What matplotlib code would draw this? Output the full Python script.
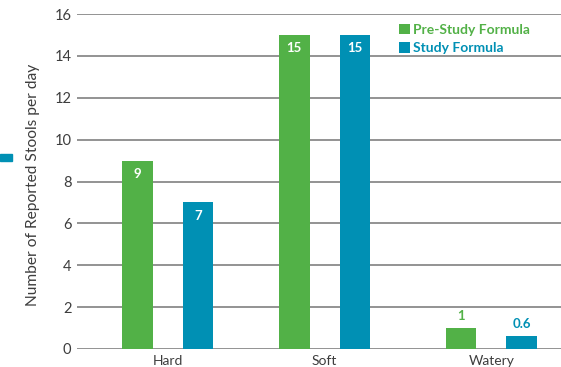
import matplotlib
matplotlib.use("Agg")
import matplotlib.pyplot as plt
from matplotlib.patches import Rectangle
import numpy as np

categories = ["Hard", "Soft", "Watery"]
pre_study = [9, 15, 1]
study = [7, 15, 0.6]
pre_labels = ["9", "15", "1"]
study_labels = ["7", "15", "0.6"]
series_names = ["Pre-Study Formula", "Study Formula"]
yticks = [0, 2, 4, 6, 8, 10, 12, 14, 16]

GREEN = "#52b147"
BLUE = "#0090b4"
TXT = "#3d3d3d"

plt.rcParams['font.family'] = ['Lato', 'DejaVu Sans']

fig = plt.figure(figsize=(5.61, 3.67), dpi=100)
ax = fig.add_axes([77/561, 1-349/367, 1-77/561, (349-14)/367])

x = np.array([0, 0.97, 2.0])
w = 0.19
off = 0.188
b1 = ax.bar(x - off, pre_study, w, color=GREEN, zorder=3, label=series_names[0])
b2 = ax.bar(x + off, study, w, color=BLUE, zorder=3, label=series_names[1])

ax.set_xlim(-0.56, 2.43)
ax.set_ylim(0, 16)
ax.set_yticks(yticks)
ax.set_xticks(x)
ax.set_xticklabels(categories)
ax.grid(axis='y', color='#8a8a8a', linewidth=1.3, zorder=0)
for s in ax.spines.values():
    s.set_visible(False)
ax.tick_params(axis='both', length=0, labelsize=10.5, colors=TXT, pad=4)
ax.tick_params(axis='x', labelsize=10, pad=4)
ax.set_ylabel("Number of Reported Stools per day", fontsize=11.2, color=TXT)
ax.yaxis.set_label_coords(-0.076, 0.49)

for rect, lab, v in zip(b1, pre_labels, pre_study):
    cx = rect.get_x() + rect.get_width()/2
    if v >= 3:
        ax.text(cx, v - 0.35, lab, ha='center', va='top', color='white', fontsize=9.5, fontweight='bold', zorder=4)
    else:
        ax.text(cx, v + 0.3, lab, ha='center', va='bottom', color=GREEN, fontsize=9.5, fontweight='bold', zorder=4)
for rect, lab, v in zip(b2, study_labels, study):
    cx = rect.get_x() + rect.get_width()/2
    if v >= 3:
        ax.text(cx, v - 0.35, lab, ha='center', va='top', color='white', fontsize=9.5, fontweight='bold', zorder=4)
    else:
        ax.text(cx, v + 0.3, lab, ha='center', va='bottom', color=BLUE, fontsize=9.5, fontweight='bold', zorder=4)

leg = ax.legend(loc='upper left', bbox_to_anchor=(0.645, 1.0), frameon=False,
                handlelength=0.8, handleheight=0.8, handletextpad=0.2,
                labelspacing=0.45, fontsize=10, borderaxespad=0.3)
for t, c in zip(leg.get_texts(), [GREEN, BLUE]):
    t.set_color(c)
    t.set_fontweight('bold')

fig.patches.append(Rectangle((0, 1-161/367), 12/561, 7/367, transform=fig.transFigure,
                             color=BLUE, figure=fig))

fig.savefig("out.png", dpi=100)
